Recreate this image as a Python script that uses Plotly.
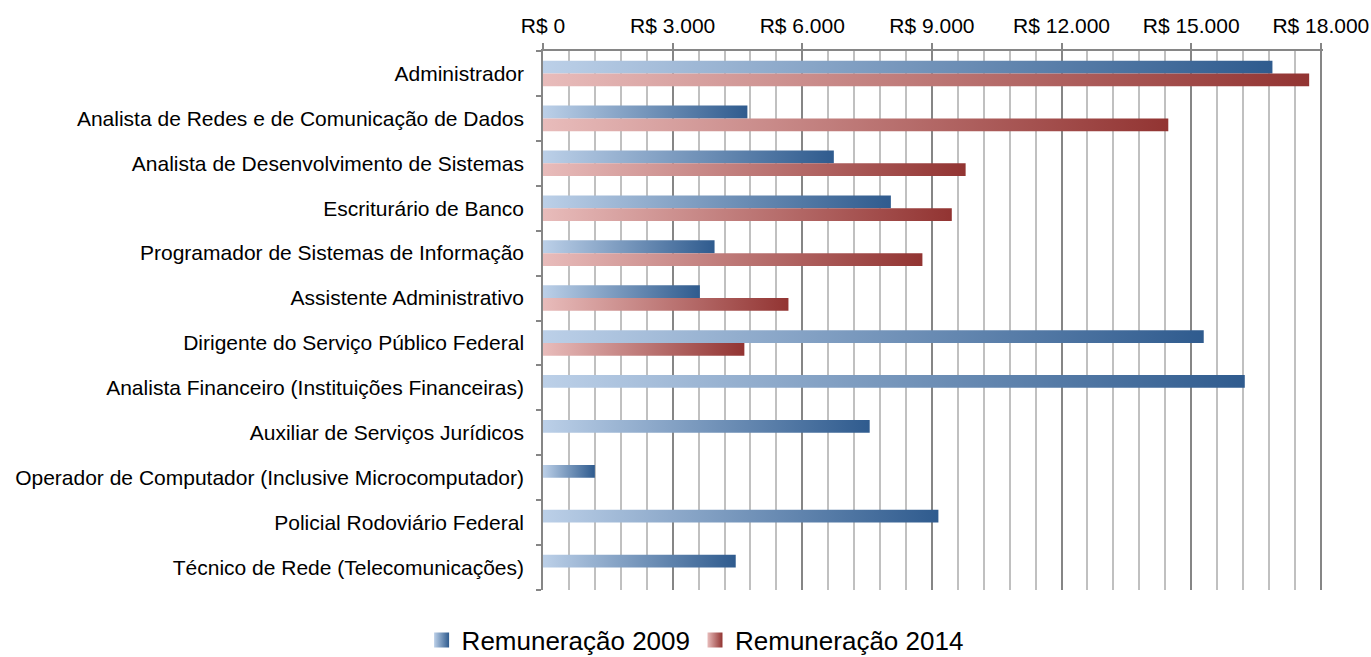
import plotly.graph_objects as go

categories = [
    "Administrador",
    "Analista de Redes e de Comunicação de Dados",
    "Analista de Desenvolvimento de Sistemas",
    "Escriturário de Banco",
    "Programador de Sistemas de Informação",
    "Assistente Administrativo",
    "Dirigente do Serviço Público Federal",
    "Analista Financeiro (Instituições Financeiras)",
    "Auxiliar de Serviços Jurídicos",
    "Operador de Computador (Inclusive Microcomputador)",
    "Policial Rodoviário Federal",
    "Técnico de Rede (Telecomunicações)",
]
rem_2009 = [16880, 4730, 6730, 8050, 3970, 3630, 15290, 16240, 7560, 1200, 9150, 4460]
rem_2014 = [17730, 14470, 9780, 9460, 8780, 5680, 4660, None, None, None, None, None]

tick_values = [0, 3000, 6000, 9000, 12000, 15000, 18000]
tick_labels = ["R$ 0", "R$ 3.000", "R$ 6.000", "R$ 9.000", "R$ 12.000", "R$ 15.000", "R$ 18.000"]

series = [
    ("Remuneração 2009", rem_2009, "#bcd0e8", "#2f5b8e", -1),
    ("Remuneração 2014", rem_2014, "#e8bcbb", "#923432", 0),
]

H = 0.285
fig = go.Figure()
for name, vals, c0, c1, side in series:
    for i, v in enumerate(vals):
        if v is None:
            continue
        y0 = i + side * H
        y1 = y0 + H
        fig.add_trace(go.Scatter(
            x=[0, v, v, 0, 0],
            y=[y0, y0, y1, y1, y0],
            mode="none",
            fill="toself",
            fillgradient=dict(type="horizontal", colorscale=[[0, c0], [1, c1]]),
            name=name,
            legendgroup=name,
            showlegend=False,
            hoveron="fills",
            text=f"{categories[i]}: R$ {v:,}".replace(",", "."),
            hoverinfo="text",
        ))
    # legend entry: gradient square marker
    fig.add_trace(go.Scatter(
        x=[None], y=[None], mode="markers", name=name, legendgroup=name,
        marker=dict(symbol="square", size=15, color=c0,
                    gradient=dict(type="horizontal", color=c1), line=dict(width=0)),
        showlegend=True,
    ))

n = len(categories)
fig.update_layout(
    width=1371, height=657,
    margin=dict(l=543, r=48, t=51, b=67, autoexpand=False),
    plot_bgcolor="white", paper_bgcolor="white",
    font=dict(family="Liberation Sans, Arial, sans-serif", size=21, color="#000000"),
    showlegend=True,
    legend=dict(
        orientation="h", x=0.195, xanchor="center", y=-0.0928, yanchor="middle",
        font=dict(size=26), itemwidth=30, tracegroupgap=0,
    ),
    xaxis=dict(
        side="top", range=[0, 18050], tickvals=tick_values, ticktext=tick_labels,
        ticks="outside", ticklen=6, tickcolor="#868686", tickwidth=1.5,
        ticklabelstandoff=2, ticklabeloverflow="allow",
        showline=True, linecolor="#868686", linewidth=1.5,
        showgrid=True, gridcolor="#868686", gridwidth=1.5, zeroline=False,
        minor=dict(dtick=600, tick0=0, showgrid=True, gridcolor="#c0c0c0", gridwidth=1.5, ticks=""),
        fixedrange=True, automargin=False,
    ),
    yaxis=dict(
        range=[n - 0.5, -0.5], tickvals=list(range(n)), ticktext=categories,
        ticks="", showgrid=False, zeroline=False, ticklabelstandoff=13,
        showline=True, linecolor="#868686", linewidth=1.5,
        minor=dict(tickvals=[k - 0.5 for k in range(n + 1)], ticks="outside", ticklen=5,
                   tickcolor="#868686", tickwidth=1.5, showgrid=False),
        fixedrange=True, automargin=False,
    ),
)

fig.write_html(
    "out.html",
    config={"displayModeBar": False},
    post_script="document.body.style.margin='0';document.body.style.overflow='hidden';",
)
